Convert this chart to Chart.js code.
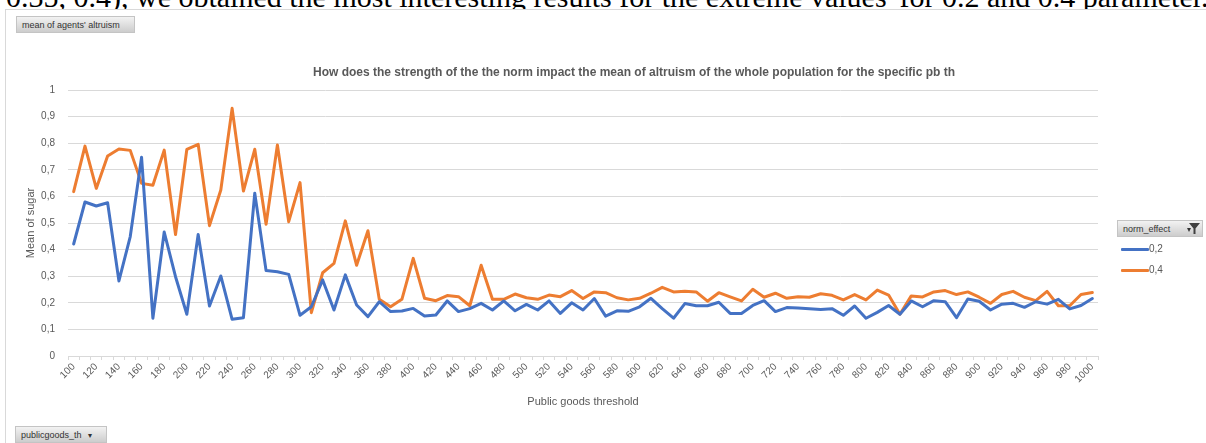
<!DOCTYPE html>
<html>
<head>
<meta charset="utf-8">
<script src="https://cdn.jsdelivr.net/npm/chart.js@4.4.1/dist/chart.umd.min.js"></script>
<style>
  html, body { margin: 0; padding: 0; background: #fff; width: 1206px; height: 443px; overflow: hidden; }
  body { position: relative; font-family: "Liberation Sans", Arial, sans-serif; }
  #doc-line { position: absolute; left: 6px; top: -20px; font-family: "Liberation Serif", "Times New Roman", serif;
              font-size: 30px; line-height: 34px; white-space: nowrap; color: #000; }
  #frame { position: absolute; left: 5px; top: 9px; width: 1300px; height: 500px; background: #fff;
           border-left: 1px solid #d9d9d9; border-top: 1px solid #d9d9d9; }
  #chart { position: absolute; left: 0; top: 0; }
  .btn { position: absolute; height: 17px; line-height: 17px; font-size: 9px; color: #333; box-sizing: border-box;
         background: linear-gradient(#f2f2f2, #cdcdcd); border: 1px solid #c4c4c4; padding: 0 5px; white-space: nowrap; }
  .btn .arrow { font-size: 8px; margin-left: 6px; color: #333; }
  .key { position: absolute; height: 3px; width: 28px; border-radius: 1px; }
  .key-label { position: absolute; font-size: 10px; color: #595959; line-height: 12px; }
</style>
</head>
<body>
<div id="doc-line">0.35, 0.4), we obtained the most interesting results for the extreme values 'for 0.2 and 0.4 parameter.</div>
<div id="frame"></div>
<canvas id="chart" width="1206" height="443"></canvas>

<div class="btn" style="left:16px; top:16px; width:119px;">mean of agents' altruism</div>
<div class="btn" style="left:15px; top:426px; width:92px;">publicgoods_th<span class="arrow">▾</span></div>
<div class="btn" style="left:1117px; top:220px; width:86px;">norm_effect
  <span class="arrow" style="position:absolute; left:63px;">▾</span>
  <svg width="11" height="11" viewBox="0 0 11 11" style="position:absolute; left:71px; top:2px;">
    <polygon points="0,0 11,0 6.5,5.5 6.5,11 4.5,11 4.5,5.5" fill="#404040"/>
  </svg>
</div>
<div id="legend"></div>

<script>
// Public goods threshold (category axis)
const thresholds = [100,110,120,130,140,150,160,170,180,190,200,210,220,230,240,250,260,270,280,290,
  300,310,320,330,340,350,360,370,380,390,400,410,420,430,440,450,460,470,480,490,
  500,510,520,530,540,550,560,570,580,590,600,610,620,630,640,650,660,670,680,690,
  700,710,720,730,740,750,760,770,780,790,800,810,820,830,840,850,860,870,880,890,
  900,910,920,930,940,950,960,970,980,990,1000];

// Mean altruism for norm_effect = 0,2
const norm02 = [0.421,0.579,0.564,0.576,0.282,0.449,0.747,0.142,0.466,0.298,
  0.157,0.457,0.188,0.301,0.138,0.144,0.612,0.321,0.317,0.307,
  0.153,0.185,0.286,0.173,0.305,0.192,0.148,0.204,0.167,0.169,
  0.179,0.150,0.154,0.207,0.167,0.178,0.198,0.173,0.207,0.170,
  0.194,0.173,0.207,0.160,0.200,0.173,0.216,0.150,0.170,0.168,
  0.185,0.217,0.178,0.142,0.197,0.189,0.189,0.202,0.160,0.160,
  0.190,0.208,0.167,0.182,0.180,0.178,0.175,0.178,0.153,0.188,
  0.142,0.164,0.190,0.157,0.207,0.185,0.208,0.204,0.144,0.214,
  0.206,0.173,0.195,0.198,0.183,0.204,0.195,0.213,0.177,0.190,
  0.216];

// Mean altruism for norm_effect = 0,4
const norm04 = [0.618,0.789,0.630,0.752,0.778,0.773,0.649,0.642,0.774,0.457,
  0.777,0.796,0.490,0.624,0.931,0.620,0.777,0.495,0.793,0.505,
  0.652,0.163,0.313,0.348,0.508,0.341,0.471,0.213,0.185,0.213,
  0.367,0.217,0.208,0.227,0.223,0.189,0.341,0.213,0.213,0.233,
  0.219,0.213,0.229,0.223,0.246,0.216,0.241,0.238,0.219,0.211,
  0.217,0.236,0.258,0.241,0.243,0.241,0.206,0.238,0.222,0.207,
  0.251,0.221,0.236,0.217,0.223,0.221,0.234,0.228,0.211,0.231,
  0.211,0.248,0.229,0.157,0.226,0.222,0.241,0.246,0.231,0.241,
  0.221,0.198,0.231,0.243,0.221,0.208,0.243,0.189,0.189,0.231,
  0.239];

const seriesNames = ['0,2', '0,4'];
const seriesColors = ['#4472C4', '#ED7D31'];
const yTickLabels = ['0','0,1','0,2','0,3','0,4','0,5','0,6','0,7','0,8','0,9','1'];
const chartTitle = 'How does the strength of the the norm impact the mean of altruism of the whole population for the specific pb th';

const textGrey = '#595959';
const gridGrey = '#d9d9d9';
Chart.defaults.font.family = '"Liberation Sans", Arial, sans-serif';
Chart.defaults.color = textGrey;

// Chart title, centred over the whole chart object (plot + legend)
const titlePlugin = {
  id: 'centredTitle',
  afterDraw(chart) {
    const ctx = chart.ctx;
    ctx.save();
    ctx.font = 'bold 12px "Liberation Sans Narrow", "Liberation Sans", Arial, sans-serif';
    ctx.fillStyle = textGrey;
    ctx.textAlign = 'center';
    ctx.textBaseline = 'middle';
    ctx.fillText(chartTitle, 634, 73);
    ctx.restore();
  }
};

new Chart(document.getElementById('chart'), {
  type: 'line',
  data: {
    labels: thresholds,
    datasets: [norm02, norm04].map((values, i) => ({
      label: seriesNames[i],
      data: values,
      borderColor: seriesColors[i],
      backgroundColor: seriesColors[i],
      borderWidth: 3,
      pointRadius: 0,
      tension: 0,
      borderJoinStyle: 'round',
      borderCapStyle: 'round'
    }))
  },
  options: {
    responsive: false,
    animation: false,
    events: [],
    layout: { padding: { left: 0, right: 108, top: 90, bottom: 0 } },
    plugins: { legend: { display: false }, title: { display: false }, tooltip: { enabled: false } },
    scales: {
      x: {
        type: 'category',
        offset: true,
        grid: { display: true, offset: true, drawOnChartArea: false, drawTicks: true, tickLength: 4, color: gridGrey },
        border: { display: true, color: gridGrey },
        ticks: {
          autoSkip: false, minRotation: 45, maxRotation: 45, padding: 1,
          font: { size: 10 }, color: textGrey,
          callback: (v, i) => (i % 2 === 0 ? String(thresholds[i]) : '')
        },
        title: { display: true, text: 'Public goods threshold', font: { size: 11 }, color: textGrey,
                 padding: { top: 0, bottom: 34 } },
        afterFit: s => { s.height = 87; }
      },
      y: {
        min: 0, max: 1,
        ticks: { stepSize: 0.1, padding: 13, font: { size: 10 }, color: textGrey,
                 callback: (v, i) => yTickLabels[i] },
        grid: { color: gridGrey, drawTicks: false, lineWidth: 1 },
        border: { display: false },
        title: { display: true, text: 'Mean of sugar', font: { size: 11 }, color: textGrey,
                 padding: { top: 24 } },
        afterFit: s => { s.width = 68; }
      }
    }
  },
  plugins: [titlePlugin]
});

// Series key on the right
const legend = document.getElementById('legend');
seriesNames.forEach((name, i) => {
  const top = 248 + i * 21;
  const key = document.createElement('div');
  key.className = 'key';
  key.style.left = '1121px';
  key.style.top = top + 'px';
  key.style.background = seriesColors[i];
  legend.appendChild(key);
  const lab = document.createElement('div');
  lab.className = 'key-label';
  lab.style.left = '1149px';
  lab.style.top = (top - 5) + 'px';
  lab.textContent = name;
  legend.appendChild(lab);
});
</script>
</body>
</html>
